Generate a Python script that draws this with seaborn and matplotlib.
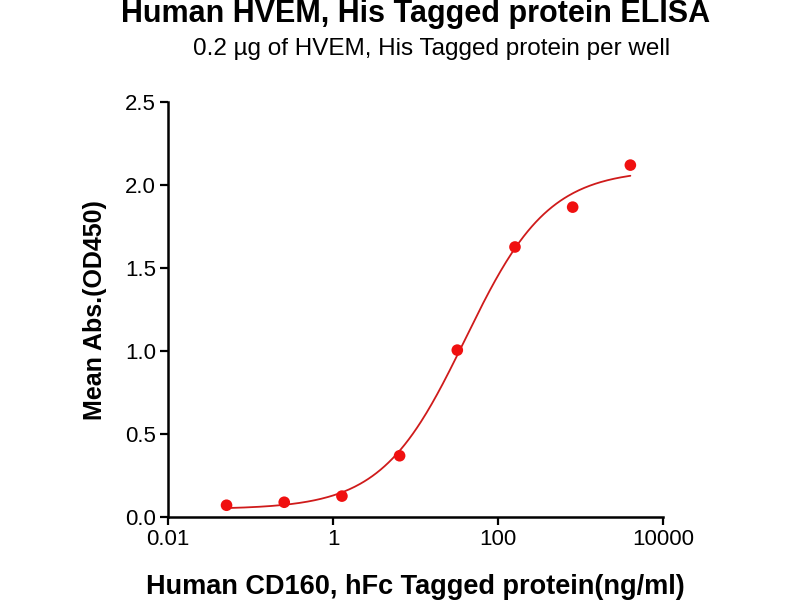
import numpy as np
import pandas as pd
import matplotlib
matplotlib.use("Agg")
import matplotlib.pyplot as plt
import seaborn as sns

# Data (ng/ml vs OD450)
conc = [0.0512, 0.256, 1.28, 6.4, 32, 160, 800, 4000]
od450 = [0.072, 0.090, 0.127, 0.370, 1.006, 1.627, 1.867, 2.120]

x_ticks = [0.01, 1, 100, 10000]
x_tick_labels = ["0.01", "1", "100", "10000"]
y_ticks = [0.0, 0.5, 1.0, 1.5, 2.0, 2.5]


# 4-parameter logistic fit (grid over EC50 / hill, linear solve for bottom / top)
def fit_4pl(x, y):
    x = np.asarray(x, float)
    y = np.asarray(y, float)
    best = None
    for log_ec50 in np.linspace(0, 3, 301):
        for hill in np.linspace(0.5, 2.0, 151):
            f = 1.0 / (1.0 + (10 ** log_ec50 / x) ** hill)
            A = np.column_stack([1 - f, f])
            coef, *_ = np.linalg.lstsq(A, y, rcond=None)
            err = np.sum((A @ coef - y) ** 2)
            if best is None or err < best[0]:
                best = (err, coef[0], coef[1], 10 ** log_ec50, hill)
    return best[1:]


bottom, top, ec50, hill = fit_4pl(conc, od450)
xs = np.logspace(np.log10(conc[0]), np.log10(conc[-1]), 300)
curve = pd.DataFrame({"x": xs, "y": bottom + (top - bottom) / (1 + (ec50 / xs) ** hill)})
points = pd.DataFrame({"x": conc, "y": od450})

sns.set_style("ticks")
plt.rcParams["font.family"] = ["Liberation Sans", "DejaVu Sans"]
plt.rcParams["text.color"] = "black"
plt.rcParams["axes.labelcolor"] = "black"
plt.rcParams["xtick.color"] = "black"
plt.rcParams["ytick.color"] = "black"

fig = plt.figure(figsize=(8, 6), dpi=100)
ax = fig.add_axes([0.21, 0.138, 0.619, 0.692])

sns.lineplot(data=curve, x="x", y="y", ax=ax, color="#cf1b1b", linewidth=1.3)
sns.scatterplot(data=points, x="x", y="y", ax=ax, color="#f01010", s=70,
                edgecolor="none", zorder=3, clip_on=False)

ax.set_xscale("log")
ax.set_xlim(0.01, 10000)
ax.set_ylim(0, 2.5)
ax.set_xticks(x_ticks)
ax.set_xticklabels(x_tick_labels)
ax.set_yticks(y_ticks)
ax.set_yticklabels([f"{v:.1f}" for v in y_ticks])
ax.minorticks_off()
ax.tick_params(axis="both", labelsize=16, width=1.6, length=5.5, color="black", pad=3)

for side in ["top", "right"]:
    ax.spines[side].set_visible(False)
for side in ["left", "bottom"]:
    ax.spines[side].set_linewidth(1.8)
    ax.spines[side].set_color("black")

ax.set_xlabel("Human CD160, hFc Tagged protein(ng/ml)", fontsize=19.5,
              fontweight="bold", labelpad=17)
ax.set_ylabel("Mean Abs.(OD450)", fontsize=18, fontweight="bold", labelpad=13)

fig.text(0.519, 0.963, "Human HVEM, His Tagged protein ELISA", ha="center",
         va="baseline", fontsize=22, fontweight="bold")
fig.text(0.539, 0.909, "0.2 µg of HVEM, His Tagged protein per well", ha="center",
         va="baseline", fontsize=17.5)

fig.savefig("out.png", dpi=100)
